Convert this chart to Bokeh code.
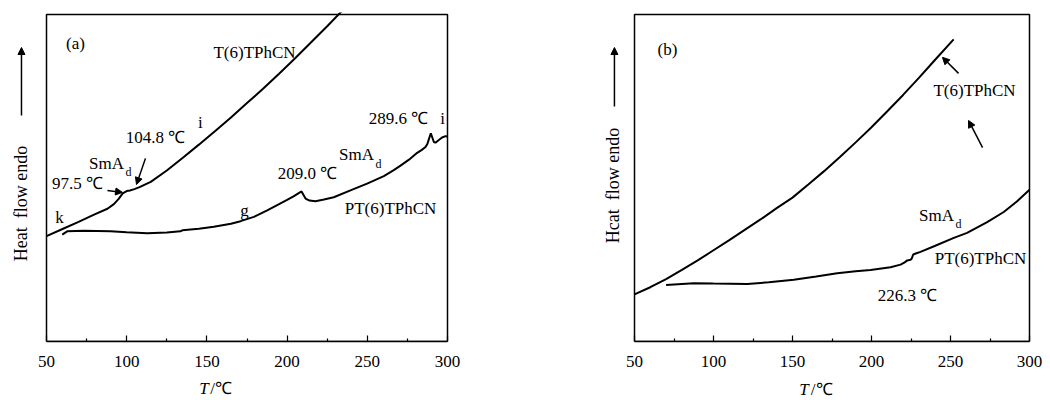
import math
from bokeh.plotting import figure
from bokeh.layouts import row, column
from bokeh.models import Label, Arrow, NormalHead, FixedTicker, Range1d
from bokeh.embed import file_html
from bokeh.resources import INLINE

# ---- DSC traces, panel (a): heating ----
t6_a_T = [50, 60, 70, 80, 88, 92, 95, 97.5, 100, 102, 104.8, 108, 115, 125, 135,
          145, 155, 165, 175, 185, 195, 205, 215, 225, 235]
t6_a_y = [32.2, 34.4, 36.6, 38.9, 40.6, 42.0, 43.6, 45.3, 46.0, 46.2, 46.6, 47.2,
          48.8, 52.3, 56.2, 60.2, 64.3, 68.5, 72.9, 77.3, 81.9, 86.6, 91.5, 96.4, 101.5]

pt6_a_T = [59.8, 62.9, 73.3, 89.9, 100, 112.8, 125, 133.5, 134.7, 145, 154.3, 165,
           171, 179.3, 187.6, 195, 200, 204, 207, 209, 211.5, 214, 217.7, 223, 229.1,
           239.5, 249.9, 260.3, 266.5, 270.7, 276, 281.1, 284, 286.3, 287.5, 289.6,
           291.5, 292.5, 294.6, 296.6, 298.8, 300]
pt6_a_y = [32.7, 33.7, 33.9, 33.7, 33.4, 33.1, 33.3, 33.7, 34.0, 34.5, 35.1, 36.0,
           36.8, 38.1, 40.1, 42.0, 43.3, 44.4, 45.3, 45.9, 43.7, 43.1, 42.9, 43.4, 44.1,
           46.2, 48.3, 50.6, 52.4, 53.8, 55.6, 57.7, 58.6, 59.5, 60.5, 63.7,
           61.0, 60.8, 61.6, 62.4, 62.8, 62.7]

# ---- DSC traces, panel (b): cooling ----
t6_b_T = [50, 60, 70, 80, 90, 100, 110, 120, 130, 140, 150, 160, 170, 180, 190,
          200, 210, 220, 230, 240, 252]
t6_b_y = [14.4, 16.6, 19.1, 21.9, 24.8, 27.9, 31.0, 34.2, 37.4, 40.8, 44.0, 48.0,
          52.1, 56.4, 60.9, 65.5, 70.4, 75.4, 80.6, 86.0, 92.4]

pt6_b_T = [70, 80, 87.5, 100, 121.3, 135, 150.8, 165, 178.3, 190, 199.4, 212, 218.4,
           221, 222.6, 224.7, 225.5, 226.4, 228, 231, 240, 252.1, 260.5, 273.2, 283.7,
           292, 300]
pt6_b_y = [17.3, 17.6, 17.8, 17.7, 17.6, 18.1, 18.9, 19.9, 20.9, 21.5, 21.9, 22.7,
           23.5, 24.2, 24.8, 25.0, 25.4, 26.6, 26.9, 27.4, 29.2, 31.7, 33.2, 36.5,
           39.6, 42.8, 46.4]

x_ticks = [50, 100, 150, 200, 250, 300]
x_minor = [75, 125, 175, 225, 275]
T_MIN, T_MAX = 50, 300
Y_MAX = 100

FONT = "Liberation Serif"
FS = "17px"
MAIN_H = 380
STRIP_H = 20


def make_panel(width, x_start, x_end, border_right):
    # frame starts at the canvas' left edge so the y title can sit inside it;
    # the visible box is drawn as a quad and the x axis is bounded to 50..300
    p = figure(width=width, height=MAIN_H, output_backend="svg", toolbar_location=None,
               x_range=Range1d(x_start, x_end), y_range=Range1d(0, 100.612),
               min_border_left=0, min_border_right=border_right,
               min_border_top=12, min_border_bottom=MAIN_H - 341)
    p.xgrid.visible = False
    p.ygrid.visible = False
    p.yaxis.visible = False
    p.outline_line_color = None
    p.background_fill_color = "white"
    p.border_fill_color = "white"
    p.quad(left=[T_MIN], right=[T_MAX], bottom=[0], top=[Y_MAX],
           fill_color=None, line_color="black", line_width=1.5)
    ax = p.xaxis[0]
    ax.bounds = (T_MIN, T_MAX)
    ax.ticker = FixedTicker(ticks=x_ticks, minor_ticks=x_minor)
    ax.axis_line_color = "black"
    ax.axis_line_width = 1.5
    ax.major_tick_in = 6
    ax.major_tick_out = 0
    ax.minor_tick_in = 3
    ax.minor_tick_out = 0
    ax.major_tick_line_width = 1.2
    ax.minor_tick_line_width = 1.2
    ax.major_label_text_font = FONT
    ax.major_label_text_font_size = FS
    ax.major_label_text_color = "black"
    ax.major_label_standoff = 14
    return p


def make_strip(width, x_start, px_per_unit):
    s = figure(width=width, height=STRIP_H, output_backend="svg", toolbar_location=None,
               x_range=Range1d(x_start, x_start + width / px_per_unit),
               y_range=Range1d(0, 1), min_border=0)
    s.axis.visible = False
    s.grid.visible = False
    s.outline_line_color = None
    s.background_fill_color = "white"
    s.border_fill_color = "white"
    return s


def txt(p, x, y, s, size=FS, angle=0.0, italic=False, align="center"):
    p.add_layout(Label(x=x, y=y, text=s, text_font=FONT, text_font_size=size,
                       text_align=align, text_baseline="middle", angle=angle,
                       text_color="black",
                       text_font_style="italic" if italic else "normal"))


def arrow(p, x0, y0, x1, y1, size=7):
    p.add_layout(Arrow(end=NormalHead(size=size, fill_color="black", line_color="black"),
                       x_start=x0, y_start=y0, x_end=x1, y_end=y1,
                       line_color="black", line_width=1.5))


def x_title(s, t_end, slash_start, y):
    txt(s, t_end, y, "T", italic=True, align="right")
    txt(s, slash_start, y, "/\u2103", align="left")


# ---- panel (a) ----
A_SCALE = 401 / 250
a_x0 = T_MIN - 46 / A_SCALE
pa = make_panel(520, a_x0, T_MAX + 2 / A_SCALE, 71)
pa.line(t6_a_T, t6_a_y, line_color="black", line_width=2)
pa.line(pt6_a_T, pt6_a_y, line_color="black", line_width=2)

txt(pa, 68.1, 91.1, "(a)")
txt(pa, 179.7, 88.4, "T(6)TPhCN")
txt(pa, 146.0, 67.0, "i")
txt(pa, 118.0, 62.4, "104.8 \u2103")
txt(pa, 87.4, 54.4, "SmA")
txt(pa, 101.1, 51.7, "d", size="12px")
txt(pa, 69.3, 48.3, "97.5 \u2103")
txt(pa, 58.1, 37.9, "k")
txt(pa, 173.4, 40.1, "g")
txt(pa, 212.7, 51.4, "209.0 \u2103")
txt(pa, 243.3, 57.2, "SmA")
txt(pa, 257.0, 54.4, "d", size="12px")
txt(pa, 269.5, 68.2, "289.6 \u2103")
txt(pa, 296.9, 68.2, "i")
txt(pa, 264.5, 40.7, "PT(6)TPhCN")
arrow(pa, 88.0, 46.2, 97.4, 45.6)
arrow(pa, 111.7, 56.0, 106.1, 48.0)

txt(pa, 33.8, 42.2, "Heat\u00a0\u00a0flow endo", size="18px", angle=math.pi / 2)
arrow(pa, 34.4, 69.1, 34.4, 89.9)

sa = make_strip(520, a_x0, A_SCALE)
x_title(sa, 171.6, 172.8, 0.6)

# ---- panel (b) ----
B_SCALE = 395 / 250
b_x0 = T_MIN - 114 / B_SCALE
pb = make_panel(530, b_x0, T_MAX + 2 / B_SCALE, 19)
pb.line(t6_b_T, t6_b_y, line_color="black", line_width=2)
pb.line(pt6_b_T, pt6_b_y, line_color="black", line_width=2)

txt(pb, 70.9, 89.3, "(b)")
txt(pb, 265.2, 76.8, "T(6)TPhCN")
arrow(pb, 255.1, 82.0, 244.9, 86.9)
arrow(pb, 270.3, 59.3, 261.4, 67.6)
txt(pb, 241.1, 38.5, "SmA")
txt(pb, 255.1, 35.8, "d", size="12px")
txt(pb, 269.0, 25.4, "PT(6)TPhCN")
txt(pb, 222.8, 14.1, "226.3 \u2103")

txt(pb, 36.1, 47.7, "Hcat\u00a0\u00a0flow endo", size="18px", angle=math.pi / 2)
arrow(pb, 37.3, 71.9, 37.3, 89.9)

sb = make_strip(530, b_x0, B_SCALE)
x_title(sb, 167.1, 168.4, 0.55)

layout = row(column(pa, sa, spacing=0), column(pb, sb, spacing=0), spacing=0)
open("out.html", "w").write(file_html(layout, INLINE))
